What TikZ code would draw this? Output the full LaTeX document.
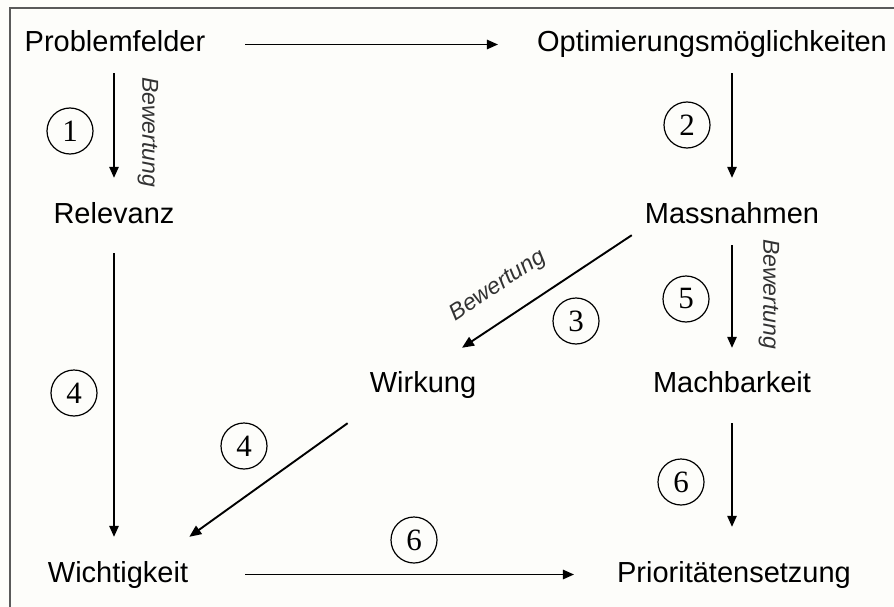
\documentclass[tikz,border=0pt]{standalone}
\usepackage{fontspec}
\setmainfont{Liberation Sans}
\newfontfamily\numfont{Liberation Serif}
\usetikzlibrary{arrows.meta,calc}
\definecolor{bgc}{RGB}{253,253,250}
\definecolor{framec}{RGB}{90,90,90}
\definecolor{labc}{RGB}{50,50,50}
\tikzset{
  term/.style={inner sep=0pt, anchor=base, text height=21pt, text depth=6pt, font=\fontsize{29}{34}\selectfont},
  arr/.style={-{Triangle[length=11pt,width=9.5pt]}, line width=1.3pt},
  darr/.style={-{Triangle[length=12pt,width=10pt]}, line width=1.9pt},
  num/.style={circle, draw, line width=1.2pt, minimum size=46pt, inner sep=0pt, font=\numfont\fontsize{31}{33}\selectfont},
  bew/.style={inner sep=0pt, text=labc, font=\itshape\fontsize{23}{26}\selectfont}
}
\begin{document}
\begin{tikzpicture}[x=1pt,y=-1pt]
\useasboundingbox (0,0) rectangle (894,607);
\fill[bgc] (0,0) rectangle (894,607);
\draw[framec, line width=1.5pt] (10,607) -- (10,8) -- (894,8);

% terms
\node[term] (pf)   at (115,52)  {Problemfelder};
\node[term] (opt)  at (712,52)  {Optimierungsmöglichkeiten};
\node[term] (rel)  at (114,223) {Relevanz};
\node[term] (mass) at (732,223) {Massnahmen};
\node[term] (wirk) at (423,392) {Wirkung};
\node[term] (mach) at (732,392) {Machbarkeit};
\node[term] (wich) at (118,582) {Wichtigkeit};
\node[term] (prio) at (734,582) {Prioritätensetzung};

% connectors
\draw[arr, shorten <=40pt, shorten >=39pt] (pf.east) -- (opt.west);
\draw[arr, shorten <=15pt, shorten >=24pt] (rel.north |- pf.south) -- (rel.north);
\draw[arr, shorten <=15pt, shorten >=24pt] (mass.north |- opt.south) -- (mass.north);
\draw[arr, shorten <=24pt, shorten >=24pt] (rel.south) -- (rel.south |- wich.north);
\draw[arr, shorten <=16pt, shorten >=23pt] (mass.south) -- (mach.north);
\draw[arr, shorten <=25pt, shorten >=34pt] (mach.south) -- (mach.south |- prio.north);
\draw[arr, shorten <=57pt, shorten >=43pt] (wich.east) -- (prio.west);
\draw[darr] ($(mass.south west)+(-13,6)$) -- ($(wirk.north)+(39,-23)$);
\draw[darr] ($(wirk.south west)+(-22,25)$) -- ($(wich.north east)+(1,-24)$);

% labels
\node[bew, rotate=-90] (b1) at (148,132) {Bewertung};
\node[bew, rotate=-90] (b2) at (769,294) {Bewertung};
\node[bew, rotate=33.6] (b3) at (498,286) {Bewertung};

% numbers
\node[num] (n1)  at (70,131)  {1};
\node[num] (n2)  at (687,125) {2};
\node[num] (n3)  at (576,321) {3};
\node[num] (n4a) at (74,393)  {4};
\node[num] (n4b) at (244,446) {4};
\node[num] (n5)  at (686,299) {5};
\node[num] (n6a) at (681,482) {6};
\node[num] (n6b) at (414,540) {6};
\end{tikzpicture}
\end{document}
